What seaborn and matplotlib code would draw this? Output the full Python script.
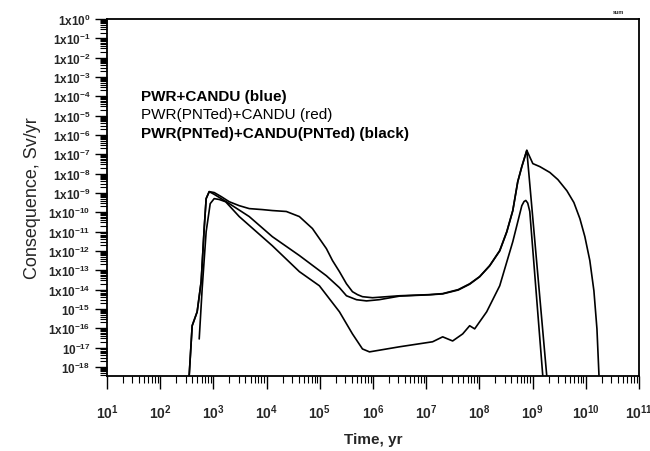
import matplotlib
matplotlib.use("Agg")
import matplotlib.pyplot as plt
import seaborn as sns
import pandas as pd
from matplotlib.ticker import LogLocator, FixedLocator, NullFormatter

# ---- data ----
time_a = [341, 399, 495, 589, 671, 731, 834, 1035, 1400, 1990, 3060, 4720, 8300, 12800,
          23500, 41300, 72600, 1.33e5, 1.73e5, 2.34e5, 3.17e5, 4.11e5, 5.1e5, 6.34e5,
          9.8e5, 3.15e6, 1.16e7, 2.04e7, 4.0e7, 6.56e7, 1.01e8, 1.56e8, 2.41e8, 3.27e8,
          4.24e8, 5.26e8, 6.27e8, 7.78e8, 1.01e9, 1.37e9, 2.11e9, 2.99e9, 4.41e9, 5.97e9,
          7.74e9, 9.6e9, 1.19e10, 1.42e10, 1.62e10, 1.77e10, 1.81e10]
dose_a = [1e-19, 1.35e-16, 7.1e-16, 2.6e-14, 1.45e-11, 5.1e-10, 1.17e-9, 1.05e-9, 6.5e-10,
          3.5e-10, 2.2e-10, 1.55e-10, 1.38e-10, 1.23e-10, 1.10e-10, 6.0e-11, 1.45e-11,
          1.32e-12, 3.2e-13, 8.5e-14, 2.0e-14, 7.8e-15, 5.5e-15, 4.3e-15, 3.8e-15, 4.8e-15,
          5.5e-15, 6.2e-15, 1.0e-14, 2.0e-14, 4.7e-14, 1.74e-13, 1.05e-12, 1.0e-11, 1.23e-10,
          3.9e-9, 2.3e-8, 1.6e-7, 3.3e-8, 2.3e-8, 1.15e-8, 4.9e-9, 1.3e-9, 3.2e-10, 4.7e-11,
          5.5e-12, 3.2e-13, 8.7e-15, 9.3e-17, 3.5e-19, 1e-19]

time_b = [341, 399, 495, 589, 671, 731, 834, 1035, 1990, 4720, 12800, 41300, 1.33e5,
          2.34e5, 3.17e5, 4.9e5, 7.55e5, 1.3e6, 3.15e6, 1.16e7, 2.04e7, 4.0e7, 6.56e7,
          1.01e8, 1.56e8, 2.41e8, 3.27e8, 4.24e8, 5.26e8, 6.27e8, 7.78e8, 1.92e9]
dose_b = [1e-19, 1.35e-16, 7.1e-16, 2.6e-14, 1.45e-11, 5.1e-10, 1.17e-9, 8.5e-10, 2.8e-10,
          6.0e-11, 5.5e-12, 5.8e-13, 5.2e-14, 1.26e-14, 4.8e-15, 3.0e-15, 2.6e-15, 3.0e-15,
          4.6e-15, 5.4e-15, 6.0e-15, 9.5e-15, 1.9e-14, 4.6e-14, 1.7e-13, 1.0e-12, 9.5e-12,
          1.2e-10, 3.8e-9, 2.3e-8, 1.6e-7, 1e-19]

time_c = [541, 615, 731, 871, 1035, 1285, 1700, 3060, 12800, 41300, 98200, 2.34e5, 4.11e5,
          6.34e5, 8.59e5, 3.15e6, 1.32e7, 2.04e7, 3.14e7, 4.85e7, 6.56e7, 8.15e7, 1.37e8,
          2.41e8, 4.24e8, 6.27e8, 6.9e8, 7.45e8, 8.1e8, 8.85e8, 1.61e9]
dose_c = [2.8e-17, 1.12e-14, 1e-11, 2.8e-10, 5.1e-10, 4.6e-10, 3.5e-10, 6.0e-11, 1.86e-12,
          8.5e-14, 1.58e-14, 7.1e-16, 5.1e-17, 8.5e-18, 6.0e-18, 1.1e-17, 2.0e-17, 3.6e-17,
          2.2e-17, 5.1e-17, 1.35e-16, 9.3e-17, 7.1e-16, 1.58e-14, 3.0e-12, 2.2e-10, 3.6e-10,
          4.1e-10, 3.0e-10, 1.1e-10, 1e-19]

x_ticks = [1e1, 1e2, 1e3, 1e4, 1e5, 1e6, 1e7, 1e8, 1e9, 1e10, 1e11]
x_labels = ['10$^{1}$', '10$^{2}$', '10$^{3}$', '10$^{4}$', '10$^{5}$', '10$^{6}$',
            '10$^{7}$', '10$^{8}$', '10$^{9}$', '10$^{10}$', '10$^{11}$']
y_exponents = list(range(0, -19, -1))
y_labels = ['1x10$^{0}$', '1x10$^{-1}$', '1x10$^{-2}$', '1x10$^{-3}$', '1x10$^{-4}$',
            '1x10$^{-5}$', '1x10$^{-6}$', '1x10$^{-7}$', '1x10$^{-8}$', '1x10$^{-9}$',
            '1x10$^{-10}$', '1x10$^{-11}$', '1x10$^{-12}$', '1x10$^{-13}$', '1x10$^{-14}$',
            '10$^{-15}$', '1x10$^{-16}$', '10$^{-17}$', '10$^{-18}$']
legend_lines = ['PWR+CANDU (blue)', 'PWR(PNTed)+CANDU (red)', 'PWR(PNTed)+CANDU(PNTed) (black)']
legend_weights = ['bold', 'normal', 'bold']

# ---- style ----
sns.set_theme(style='ticks')
plt.rcParams['font.family'] = ['Liberation Sans', 'DejaVu Sans']
plt.rcParams['mathtext.default'] = 'regular'

fig = plt.figure(figsize=(6.5, 4.52), dpi=100)
W, H = 650, 452
ax = fig.add_axes([107 / W, 1 - 377 / H, (639 - 107) / W, (377 - 20) / H])

frames = []
for name, t, d in [('a', time_a, dose_a), ('b', time_b, dose_b), ('c', time_c, dose_c)]:
    frames.append(pd.DataFrame({'time': t, 'dose': d, 'case': name}))
df = pd.concat(frames, ignore_index=True)

for name, sub in df.groupby('case'):
    sns.lineplot(data=sub, x='time', y='dose', ax=ax, color='black', lw=1.2,
                 sort=False, estimator=None, legend=False)

ax.set_xscale('log')
ax.set_yscale('log')
ax.set_xlim(1e1, 1e11)
ax.set_ylim(10 ** -18.47, 1e0)

ax.xaxis.set_major_locator(FixedLocator(x_ticks))
ax.set_xticklabels(x_labels, fontsize=10, fontweight='bold')
ax.xaxis.set_minor_locator(LogLocator(base=10, subs=range(2, 10), numticks=100))
ax.xaxis.set_minor_formatter(NullFormatter())

y_ticks = [10.0 ** e for e in y_exponents]
ax.yaxis.set_major_locator(FixedLocator(y_ticks))
ax.set_yticklabels(y_labels, fontsize=8.5, fontweight='bold')
ax.yaxis.set_minor_locator(LogLocator(base=10, subs=range(2, 10), numticks=100))
ax.yaxis.set_minor_formatter(NullFormatter())

ax.tick_params(axis='both', which='major', direction='out', length=9, width=1.0,
               color='black', pad=3)
ax.tick_params(axis='both', which='minor', direction='out', length=5, width=0.8,
               color='black')
ax.tick_params(axis='x', which='major', pad=10)

for s in ax.spines.values():
    s.set_visible(True)
    s.set_linewidth(1.3)
    s.set_color('black')

ax.set_xlabel('Time, yr', fontsize=11, fontweight='bold', labelpad=8)
ax.set_ylabel('Consequence, Sv/yr', fontsize=13, labelpad=5)

ys = [97, 115, 134]
for txt, wgt, y in zip(legend_lines, legend_weights, ys):
    fig.text(141 / W, 1 - y / H, txt, fontsize=11, fontweight=wgt, va='center',
             ha='left', color='black')

fig.text(618 / W, 1 - 13 / H, 'sum', fontsize=4, fontweight='bold', ha='center',
         va='center')

fig.savefig('out.png', dpi=100, facecolor='white')
